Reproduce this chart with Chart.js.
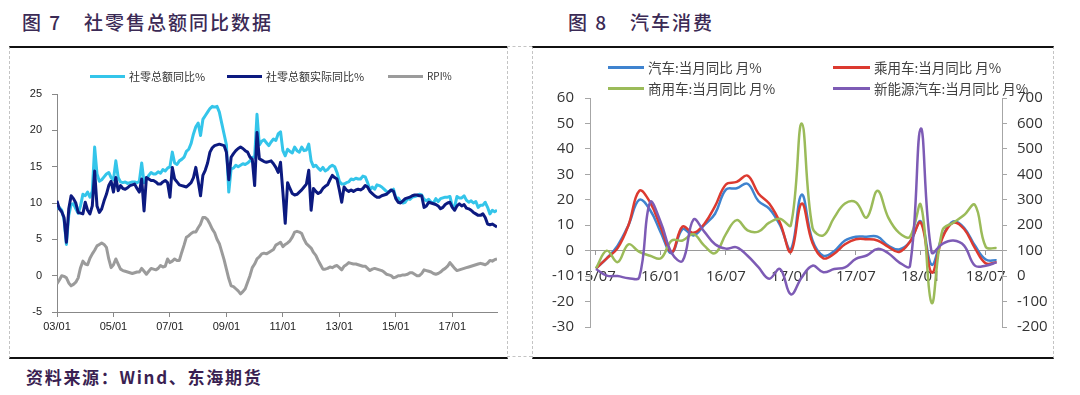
<!DOCTYPE html>
<html lang="zh-CN">
<head>
<meta charset="utf-8">
<title>社零售总额同比数据 / 汽车消费</title>
<script src="https://cdn.jsdelivr.net/npm/chart.js@4.4.1/dist/chart.umd.min.js"></script>
<style>
  html, body { margin: 0; padding: 0; background: #fff; }
  body { width: 1080px; height: 395px; position: relative; overflow: hidden; font-family: "Noto Sans CJK SC", sans-serif; }
  .title { position: absolute; top: 8px; font-size: 19px; line-height: 27px; color: #3b2a55; font-weight: 500; letter-spacing: 2px; white-space: nowrap; }
  .panel { position: absolute; top: 46px; height: 309px; border-top: 2px solid #111; border-bottom: 2px solid #111; border-left: 1px dashed #c4c4c4; border-right: 1px dashed #c4c4c4; }
  .gap { position: absolute; top: 46px; height: 309px; border-top: 1px dashed #c4c4c4; border-bottom: 1px dashed #c4c4c4; }
  canvas { position: absolute; }
  .leg { position: absolute; white-space: nowrap; display: flex; align-items: center; color: #333; }
  .leg i { display: inline-block; height: 3px; margin-right: 4px; }
  .src { position: absolute; left: 26px; top: 364px; font-size: 17px; line-height: 26px; font-weight: 700; color: #3a1f52; letter-spacing: 1.7px; white-space: nowrap; }
</style>
</head>
<body>
<div class="title" style="left:22px">图 7<span style="margin-left:22px">社零售总额同比数据</span></div>
<div class="title" style="left:568px">图 8<span style="margin-left:22px">汽车消费</span></div>

<div class="panel" style="left:9px;width:497px"></div>
<div class="gap" style="left:507px;width:25px"></div>
<div class="panel" style="left:532px;width:520px"></div>

<canvas id="retail" width="496" height="306" style="left:10px;top:49px"></canvas>
<canvas id="auto" width="519" height="306" style="left:533px;top:49px"></canvas>

<div class="leg" style="left:90px;top:68px;font-size:11px;line-height:16px"><i style="width:35px;background:#34c5ea"></i>社零总额同比%</div>
<div class="leg" style="left:227px;top:68px;font-size:11px;line-height:16px"><i style="width:35px;background:#0c1a80"></i>社零总额实际同比%</div>
<div class="leg" style="left:388px;top:68px;font-size:10px;line-height:16px"><i style="width:35px;background:#9b9b9b"></i>RPI%</div>

<div class="leg" style="left:608px;top:57px;font-size:13.5px;line-height:20px;color:#404040"><i style="width:36px;background:#3f83cf"></i>汽车:当月同比 月%</div>
<div class="leg" style="left:833px;top:57px;font-size:13.5px;line-height:20px;color:#404040"><i style="width:37px;background:#dc3a30"></i>乘用车:当月同比 月%</div>
<div class="leg" style="left:608px;top:78px;font-size:13.5px;line-height:20px;color:#404040"><i style="width:36px;background:#9bbb59"></i>商用车:当月同比 月%</div>
<div class="leg" style="left:833px;top:78px;font-size:13.5px;line-height:20px;color:#404040"><i style="width:37px;background:#7d5bb5"></i>新能源汽车:当月同比 月%</div>

<div class="src">资料来源：Wind、东海期货</div>

<script>
// ---- 图7: monthly, 2003/01 - 2018/08 ----
const retailTickLabels = ['03/01', '05/01', '07/01', '09/01', '11/01', '13/01', '15/01', '17/01'];

const retailNominal = [
  9.2, 9.4, 9.0, 7.7, 4.3, 8.3, 9.8, 9.9, 9.2, 8.6, 9.6, 11.2,
  11.0, 11.5, 10.8, 11.6, 17.7, 14.0, 13.0, 13.2, 13.6, 14.0, 14.2, 13.5,
  13.2, 15.8, 13.5, 12.9, 12.8, 12.9, 12.7, 12.8, 12.9, 12.9, 12.8, 13.0,
  15.5, 12.8, 13.3, 13.8, 14.2, 14.0, 14.0, 14.3, 14.1, 14.6, 14.4, 14.8,
  15.0, 17.0, 15.5, 15.3, 15.8, 16.0, 16.3, 17.1, 17.4, 18.2, 19.5, 20.5,
  21.0, 19.3, 21.5, 22.0, 22.5, 23.0, 23.3, 23.2, 23.3, 22.5, 21.0, 19.5,
  18.0, 11.5, 14.7, 14.8, 15.2, 15.0, 15.2, 15.4, 15.3, 15.5, 15.8, 16.3,
  16.3, 22.2, 18.0, 18.5, 18.7, 18.3, 17.9, 18.4, 18.8, 18.6, 19.5, 19.8,
  17.2, 16.5, 17.4, 17.1, 16.9, 17.7, 17.2, 17.0, 17.7, 17.2, 17.3, 18.1,
  15.8, 15.0, 15.2, 14.8, 14.5, 14.9, 14.4, 14.6, 15.0, 15.2, 15.0, 14.2,
  13.0, 12.6, 12.6, 12.8, 12.9, 13.3, 13.2, 13.4, 13.3, 13.3, 13.7, 13.6,
  12.8, 11.8, 12.2, 11.9, 12.5, 12.4, 12.2, 11.9, 11.6, 11.5, 11.7, 11.9,
  10.7, 10.7, 10.2, 10.0, 10.1, 10.6, 10.5, 10.8, 10.9, 11.0, 11.2, 11.1,
  10.5, 10.3, 10.5, 10.1, 10.0, 10.6, 10.2, 10.6, 10.7, 10.8, 10.8, 10.9,
  9.5, 9.5, 10.9, 10.7, 10.7, 11.0, 10.4, 10.1, 10.3, 10.0, 10.2, 9.4,
  9.7, 9.7, 10.1, 9.4, 8.5, 9.0, 8.8, 9.0
];

const retailReal = [
  10.3, 9.2, 8.8, 8.0, 4.6, 9.2, 11.0, 10.6, 10.0, 8.7, 8.6, 8.5,
  10.1, 9.0, 8.5, 9.6, 14.4, 9.6, 8.7, 9.2, 10.3, 11.2, 12.4, 13.0,
  11.5, 13.5, 11.7, 12.4, 12.0, 11.9, 12.1, 12.4, 12.5, 12.6, 12.0, 11.5,
  13.3, 8.9, 13.5, 13.3, 13.1, 13.1, 12.9, 12.6, 12.6, 12.9, 13.1, 12.8,
  10.8, 14.9, 13.3, 12.9, 12.5, 12.4, 12.3, 12.2, 12.5, 12.8, 13.5, 14.9,
  13.0, 11.0, 13.8, 14.5, 15.5, 17.0, 17.6, 17.9, 18.0, 18.1, 18.0, 17.9,
  17.0, 13.2, 16.3, 16.8, 17.2, 17.5, 17.7, 17.5, 17.2, 17.0, 16.3, 16.0,
  12.4, 19.7, 16.1, 15.9, 15.7, 15.6, 15.7, 15.8, 15.4, 14.9, 14.2, 15.6,
  11.5, 7.2, 12.8, 12.0, 11.3, 11.1, 11.2, 11.5, 11.8, 12.2, 12.6, 14.5,
  9.0, 12.0, 11.6, 11.3, 11.5, 12.0, 12.3, 12.5, 13.2, 13.8, 13.5, 13.3,
  11.8, 10.1, 12.2, 11.8, 11.6, 11.8, 11.6, 11.8, 11.9, 11.8, 12.0, 12.4,
  12.2, 11.6, 11.3, 11.0, 10.8, 10.8, 11.0, 11.1, 11.2, 11.5, 11.8, 11.6,
  10.6, 10.1, 10.0, 10.3, 10.6, 10.7, 10.8, 11.0, 11.1, 11.1, 11.0, 11.0,
  9.4, 9.6, 10.1, 10.0, 9.9, 9.8, 9.6, 9.2, 9.4, 9.8, 10.0, 10.1,
  9.4, 9.0, 9.6, 9.9, 9.6, 9.8, 9.3, 9.2, 9.0, 8.7, 8.5, 8.3,
  8.3, 8.5, 8.0, 7.1, 7.0, 7.1, 6.9, 6.7
];

const rpi = [
  -1.1, -0.6, 0.0, -0.1, -0.3, -1.0, -1.4, -1.2, -0.9, -0.3, 1.1, 2.0,
  1.6, 1.5, 2.4, 3.0, 3.5, 4.1, 4.3, 4.5, 4.3, 3.9, 2.3, 1.1,
  1.5, 2.3, 1.6, 0.9, 0.7, 0.6, 0.5, 0.4, 0.3, 0.4, 0.5, 0.5,
  1.0, 0.6, 0.2, 0.6, 1.0, 0.9, 0.8, 1.0, 1.4, 1.2, 1.3, 2.3,
  1.8, 2.0, 2.3, 2.1, 2.1, 3.2, 4.2, 5.3, 5.5, 5.8, 6.0, 6.0,
  6.6, 7.1, 8.0, 8.0, 7.7, 7.1, 6.4, 5.9, 5.0, 4.4, 3.3, 2.2,
  0.9, -0.4, -1.4, -1.5, -1.8, -2.1, -2.5, -2.2, -1.8, -0.9, 0.0, 1.1,
  1.6, 2.3, 2.6, 3.0, 3.1, 3.0, 3.2, 3.4, 3.6, 4.2, 4.4, 4.6,
  4.0, 4.3, 4.5, 4.8, 5.3, 6.0, 6.1, 6.0, 5.8, 5.0, 4.4, 4.1,
  3.8, 3.2, 2.8, 2.1, 1.5, 0.9, 0.9, 1.0, 1.2, 1.1, 1.3, 1.4,
  1.1, 0.8, 1.3, 1.5, 1.8, 1.7, 1.6, 1.6, 1.5, 1.4, 1.3, 1.3,
  1.0, 0.7, 0.9, 1.0, 0.9, 0.8, 0.7, 0.5, 0.2, 0.1, 0.0, -0.3,
  -0.2, 0.0, 0.0, 0.1, 0.1, 0.2, 0.4, 0.4, 0.2, 0.0, 0.0, 0.3,
  0.8, 0.7, 0.6, 0.5, 0.3, 0.2, 0.3, 0.5, 0.8, 1.0, 1.3, 1.8,
  1.4, 1.0, 0.7, 0.8, 0.9, 1.0, 1.1, 1.2, 1.3, 1.4, 1.5, 1.6,
  1.7, 1.6, 1.5, 1.7, 2.1, 2.0, 2.2, 2.3
];

// ---- 图8: monthly, 2015/07 - 2018/08 ----
const autoMonths = [
  '15/07', '15/08', '15/09', '15/10', '15/11', '15/12',
  '16/01', '16/02', '16/03', '16/04', '16/05', '16/06', '16/07', '16/08', '16/09', '16/10', '16/11', '16/12',
  '17/01', '17/02', '17/03', '17/04', '17/05', '17/06', '17/07', '17/08', '17/09', '17/10', '17/11', '17/12',
  '18/01', '18/02', '18/03', '18/04', '18/05', '18/06', '18/07', '18/08'
];
const autoYoY = [-7, -3, 2, 10, 20, 16, 7, -1, 8.5, 6, 10, 14.5, 24, 24.5, 26.3, 19.5, 16.5, 10, 0.5, 22,
  4, -2, -0.2, 4, 5.5, 5.5, 5.5, 2, 0.5, 3.5, 11.5, -5.5, 5.5, 11.5, 9, 2, -3.5, -3.8];
const passengerYoY = [-7, -3, 1, 10, 23.5, 19, 9, -0.5, 9.5, 7, 10.5, 17.5, 26, 27, 29.5, 22.5, 18.5, 11, -0.5, 18.5,
  3, -3, -1.2, 2.5, 4.5, 4.5, 4, 1.5, -0.5, 3.5, 11, -8.6, 5, 11, 8.5, 1, -5, -4.5];
const commercialYoY = [-7, 0, -4.5, 2.5, -0.5, -2, -3, 4, 4, 6.5, 2, -1, 6.5, 12, 8, 7.5, 11, 12.5, 10, 50,
  9, 6, 13, 18.5, 19, 13, 23.5, 13, 7, 5.5, 18, -20.5, 8, 11, 14, 18, 1.5, 1];
const nevYoY = [28, 2, 0, -8, -5, 290, 210, 90, 60, 222, 175, 125, 108, 113, 80, 35, -10, 28, -72, -5,
  41, 15, 28, 34, 68, 81, 107, 90, 54, 40, 580, 94, 127, 140, 120, 41, 41, 54];

const toPts = arr => arr.map((v, i) => ({ x: i, y: v }));

const smallFont = { family: 'Liberation Sans', size: 11 };
const axisFont = { family: 'Open Sans', size: 15 };

new Chart(document.getElementById('retail'), {
  type: 'line',
  data: {
    datasets: [
      { label: '社零总额实际同比%', data: toPts(retailReal), borderColor: '#0c1a80', borderWidth: 3 },
      { label: '社零总额同比%', data: toPts(retailNominal), borderColor: '#34c5ea', borderWidth: 3 },
      { label: 'RPI%', data: toPts(rpi), borderColor: '#9b9b9b', borderWidth: 3 }
    ]
  },
  options: {
    responsive: false,
    animation: false,
    elements: { point: { radius: 0 }, line: { tension: 0, borderJoinStyle: 'round' } },
    layout: { padding: { top: 45, right: 9, left: 0, bottom: 0 } },
    plugins: { legend: { display: false }, tooltip: { enabled: false } },
    scales: {
      x: {
        type: 'linear', min: 0, max: 187,
        grid: { drawOnChartArea: false, tickLength: 5, color: '#888' },
        border: { color: '#888' },
        ticks: {
          stepSize: 24, includeBounds: false, autoSkip: false, maxRotation: 0, padding: 3,
          color: '#222', font: smallFont,
          callback: v => retailTickLabels[v / 24] ?? ''
        },
        afterFit: s => { s.height = 43; }
      },
      y: {
        min: -5, max: 25,
        grid: { drawOnChartArea: false, tickLength: 5, color: '#888' },
        border: { color: '#888' },
        ticks: { stepSize: 5, padding: 10, color: '#222', font: smallFont },
        afterFit: s => { s.width = 47; }
      }
    }
  }
});

new Chart(document.getElementById('auto'), {
  type: 'line',
  data: {
    datasets: [
      { label: '汽车:当月同比 月%', data: toPts(autoYoY), borderColor: '#3f83cf', yAxisID: 'y', order: 3 },
      { label: '乘用车:当月同比 月%', data: toPts(passengerYoY), borderColor: '#dc3a30', yAxisID: 'y', order: 2 },
      { label: '商用车:当月同比 月%', data: toPts(commercialYoY), borderColor: '#9bbb59', yAxisID: 'y', order: 1 },
      { label: '新能源汽车:当月同比 月%', data: toPts(nevYoY), borderColor: '#7d5bb5', yAxisID: 'y1', order: 0 }
    ]
  },
  options: {
    responsive: false,
    animation: false,
    elements: { point: { radius: 0 }, line: { tension: 0.4, borderWidth: 2.5 } },
    layout: { padding: { top: 49, right: 0, left: 0, bottom: 28 } },
    plugins: { legend: { display: false }, tooltip: { enabled: false } },
    scales: {
      x: {
        type: 'linear', min: -0.55, max: 37.5,
        position: { y: 0 },
        grid: { drawOnChartArea: false, tickLength: 4, color: '#9a9a9a' },
        border: { color: '#9a9a9a' },
        ticks: {
          stepSize: 6, includeBounds: false, autoSkip: false, maxRotation: 0, padding: 13,
          color: '#333', font: axisFont,
          callback: v => autoMonths[v] ?? ''
        }
      },
      y: {
        position: 'left', min: -30, max: 60,
        grid: { drawOnChartArea: false, tickLength: 5, color: '#a6a6a6' },
        border: { color: '#a6a6a6' },
        ticks: { stepSize: 10, padding: 11, color: '#333', font: axisFont },
        afterFit: s => { s.width = 57; }
      },
      y1: {
        position: 'right', min: -200, max: 700,
        grid: { drawOnChartArea: false, tickLength: 5, color: '#a6a6a6' },
        border: { color: '#a6a6a6' },
        ticks: { stepSize: 100, padding: 10, color: '#333', font: axisFont },
        afterFit: s => { s.width = 50; }
      }
    }
  }
});
</script>
</body>
</html>
